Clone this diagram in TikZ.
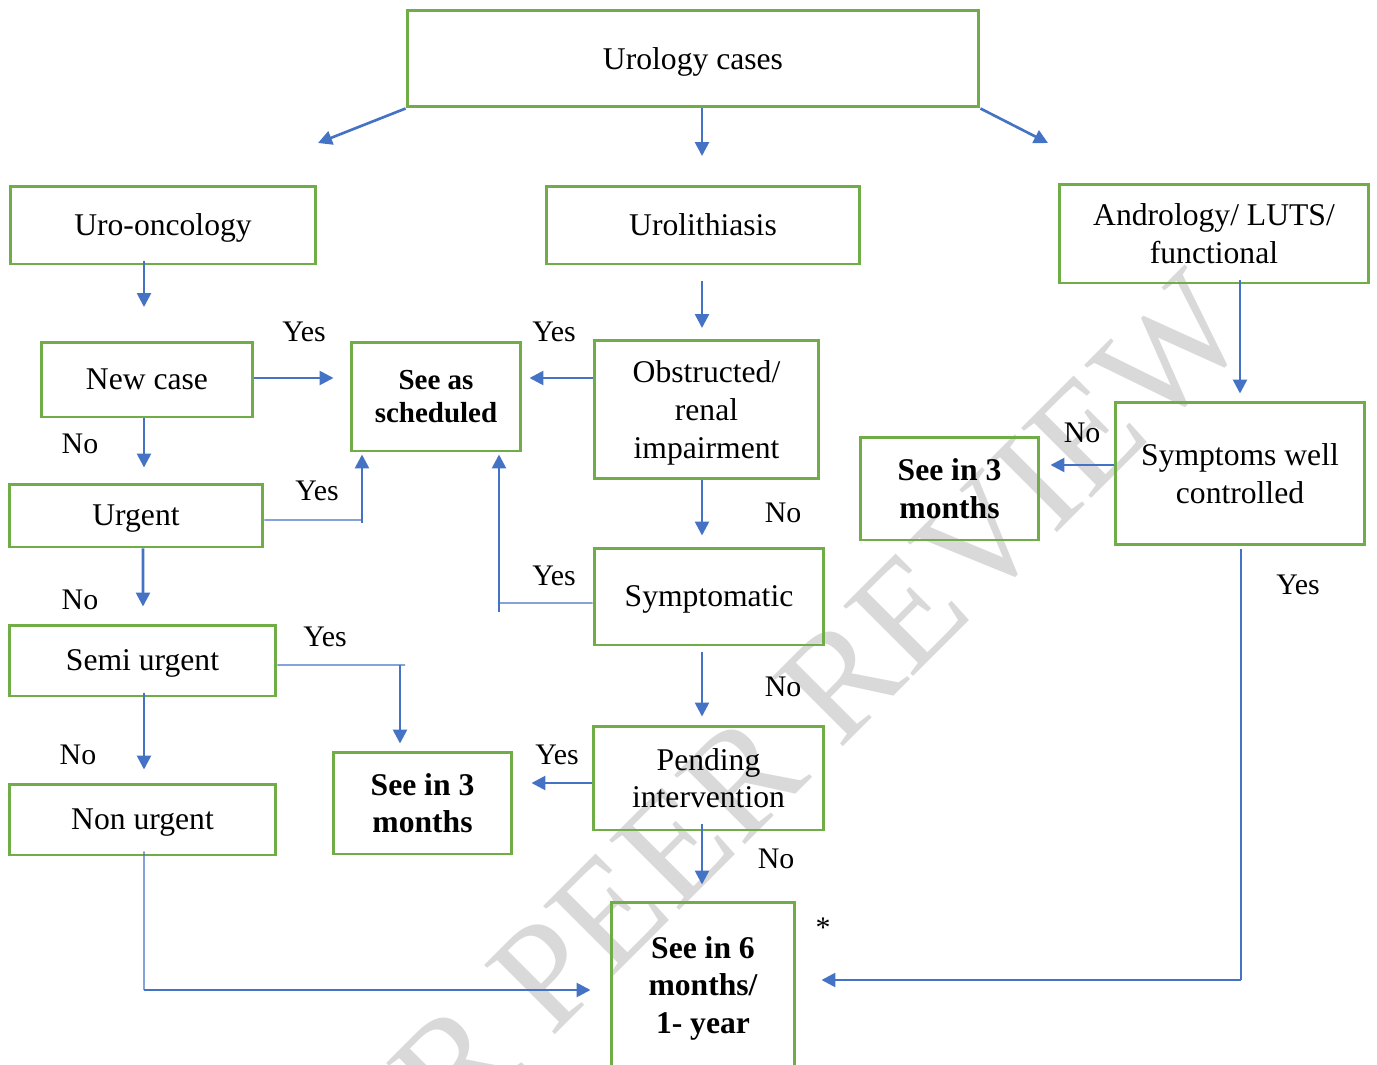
\documentclass[tikz,border=0pt]{standalone}
\usepackage{fontspec}
\setmainfont{Liberation Serif}
\usetikzlibrary{arrows.meta,calc}
\definecolor{boxgreen}{HTML}{70AD47}
\definecolor{arrowblue}{HTML}{4472C4}
\definecolor{wmgray}{HTML}{D9D9D9}

\begin{document}
\begin{tikzpicture}[x=0.02cm,y=-0.02cm,
        box/.style={draw=boxgreen,line width=1.7pt,inner sep=0pt,text depth=0pt,align=center,font=\fontsize{18}{21.5}\selectfont},
        outbox/.style={box,font=\fontsize{18}{21.5}\selectfont\bfseries},
        flow/.style={draw=arrowblue,line width=1.5pt,-{Triangle[length=0.28cm,width=0.28cm]}},
        link/.style={draw=arrowblue,line width=0.75pt},
        lbl/.style={font=\fontsize{17}{20}\selectfont}]
        \useasboundingbox (0,0) rectangle (1377,1065);
        \clip (0,0) rectangle (1377,1065);

        %watermark
        \node[text=wmgray,font=\fontsize{86}{90}\selectfont,rotate=45,anchor=base] (wm) at (786,804) {FOR PEER REVIEW};

        %boxes
        \node[box,minimum width=11.44cm,minimum height=1.94cm] (uro) at (693,58.5) {Urology cases};
        \node[box,minimum width=6.12cm,minimum height=1.56cm] (onco) at (163,225) {Uro-oncology};
        \node[box,minimum width=6.28cm,minimum height=1.56cm] (litho) at (703,225) {Urolithiasis};
        \node[box,minimum width=6.2cm,minimum height=1.98cm] (andro) at (1214,233.5) {Andrology/ LUTS/\\functional};
        \node[box,minimum width=4.24cm,minimum height=1.5cm] (newcase) at (147,379.5) {New case};
        \node[outbox,minimum width=3.4cm,minimum height=2.18cm,font=\fontsize{16.5}{18.7}\selectfont\bfseries] (sched) at (436,396.5) {See as\\scheduled};
        \node[box,minimum width=4.5cm,minimum height=2.78cm] (obstr) at (706.5,409.5) {Obstructed/\\renal\\impairment};
        \node[box,minimum width=5.08cm,minimum height=1.26cm] (urgent) at (136,515.5) {Urgent};
        \node[box,minimum width=4.6cm,minimum height=1.94cm] (sympt) at (709,596.5) {Symptomatic};
        \node[box,minimum width=5.34cm,minimum height=1.42cm] (semi) at (142.5,660.5) {Semi urgent};
        \node[outbox,minimum width=3.58cm,minimum height=2.04cm] (three) at (422.5,803) {See in 3\\months};
        \node[box,minimum width=4.62cm,minimum height=2.08cm] (pend) at (708.5,778) {Pending\\intervention};
        \node[box,minimum width=5.34cm,minimum height=1.42cm] (nonurg) at (142.5,819.5) {Non urgent};
        \node[outbox,minimum width=3.68cm,minimum height=3.32cm] (six) at (703,985) {See in 6\\months/\\1- year};
        \node[outbox,minimum width=3.58cm,minimum height=2.06cm] (threeb) at (949.5,488.5) {See in 3\\months};
        \node[box,minimum width=5cm,minimum height=2.86cm] (symwell) at (1240,473.5) {Symptoms well\\controlled};

        %arrows from the top
        \coordinate (lt) at (318,143);
        \coordinate (mid) at (702,156);
        \coordinate (rt) at (1048,143);
        \coordinate (odn) at (144,307);
        \coordinate (ldn) at (702,328);
        \draw[flow] (uro.south west) -- (lt);
        \draw[flow] (uro.south -| mid) -- (mid);
        \draw[flow] (uro.south east) -- (rt);
        \draw[flow] ($(onco.south)+(-19,-4)$) -- (odn);
        \draw[flow] ($(litho.south)+(-1,16)$) -- (ldn);
        \draw[flow] ($(andro.south)+(26,-4)$) -- ($(symwell.north)+(0,-7)$);

        %uro-oncology branch
        \draw[flow] ($(newcase.east)+(0,-1.5)$) -- ($(sched.west)+(-16,-18.5)$);
        \node[lbl] (y1) at (304,332) {Yes};
        \draw[flow] ($(newcase.south)+(-3,0)$) -- ($(urgent.north)+(8,-15)$);
        \node[lbl] (n1) at (80,444) {No};
        \coordinate (ubend) at (362,520);
        \draw[link] ($(urgent.east)+(0,4.5)$) -- (ubend);
        \draw[flow] ($(ubend)+(0,3)$) -- ($(sched.south)+(-74,2)$);
        \node[lbl] (y2) at (317,491) {Yes};
        \draw[flow] ($(urgent.south)+(7,0)$) -- ($(semi.north)+(0.5,-17)$);
        \node[lbl] (n2) at (80,600) {No};
        \coordinate (mbend) at (400,665);
        \draw[link] ($(semi.east)+(0,4.5)$) -- ($(mbend)+(5,0)$);
        \draw[flow] (mbend) -- ($(three.north)+(-22.5,-7)$);
        \node[lbl] (y3) at (325,637) {Yes};
        \draw[flow] ($(semi.south)+(1.5,-4)$) -- ($(nonurg.north)+(1.5,-13)$);
        \node[lbl] (n3) at (78,755) {No};
        \coordinate (nbend) at (144,990);
        \draw[link] ($(nonurg.south)+(1.5,-5)$) -- (nbend);
        \draw[flow] (nbend) -- ($(six.west)+(-19,5)$);

        %urolithiasis branch
        \draw[flow] ($(obstr.west)+(0,-31.5)$) -- ($(sched.east)+(7,-18.5)$);
        \node[lbl] (y4) at (554,332) {Yes};
        \draw[flow] ($(obstr.south)+(-4.5,0)$) -- ($(sympt.north)+(-7,-11)$);
        \node[lbl] (n4) at (783,513) {No};
        \coordinate (sbend) at (499,603);
        \draw[link] ($(sympt.west)+(0,6.5)$) -- (sbend);
        \draw[flow] ($(sbend)+(0,9)$) -- ($(sched.south)+(63,2)$);
        \node[lbl] (y5) at (554,576) {Yes};
        \draw[flow] ($(sympt.south)+(-7,6)$) -- ($(pend.north)+(-6.5,-8)$);
        \node[lbl] (n5) at (783,687) {No};
        \draw[flow] ($(pend.west)+(0,5)$) -- ($(three.east)+(18,-20)$);
        \node[lbl] (y6) at (557,755) {Yes};
        \draw[flow] ($(pend.south)+(-6.5,-7)$) -- ($(six.north)+(-1,-16)$);
        \node[lbl] (n6) at (776,859) {No};
        \node[lbl] (star) at (823,928) {*};

        %andrology branch
        \draw[flow] ($(symwell.west)+(0,-8.5)$) -- ($(threeb.east)+(10,-23.5)$);
        \node[lbl] (n7) at (1082,433) {No};
        \coordinate (ybend) at (1241,980);
        \draw[link] ($(symwell.south)+(1,3)$) -- (ybend);
        \draw[flow] (ybend) -- ($(six.east)+(25,-5)$);
        \node[lbl] (y7) at (1298,585) {Yes};
    \end{tikzpicture}
\end{document}
